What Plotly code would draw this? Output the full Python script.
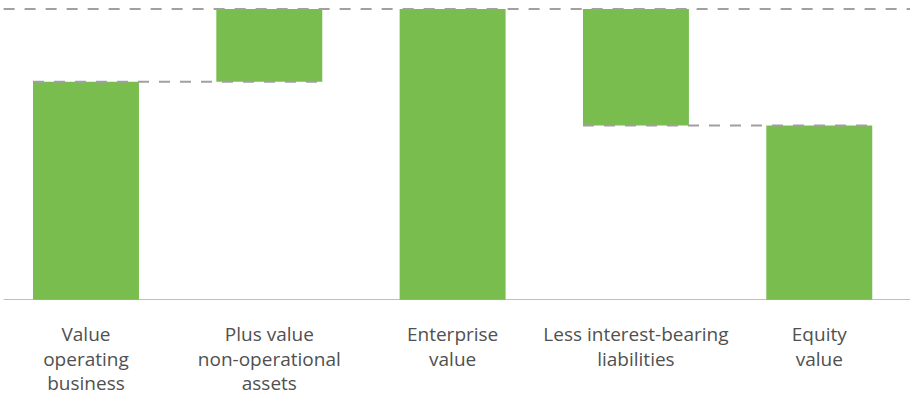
import plotly.graph_objects as go

# Bridge from operating value to equity value
categories = [
    "Value<br>operating<br>business",
    "Plus value<br>non-operational<br>assets",
    "Enterprise<br>value",
    "Less interest-bearing<br>liabilities",
    "Equity<br>value",
]
steps = [75, 25, 100, -40, 60]
measures = ["absolute", "relative", "total", "relative", "total"]

GREEN = "#7abd4f"
DASH_GREY = "#a0a0a0"

# Work out floating bar bases / heights from the step values
bases, heights, running = [], [], 0
for v, m in zip(steps, measures):
    if m == "relative":
        start, end = running, running + v
        running = end
    else:
        start, end = 0, v
        running = v
    bases.append(min(start, end))
    heights.append(abs(end - start))

x = list(range(len(categories)))
bar_w = 0.578

fig = go.Figure()
fig.add_trace(go.Bar(
    x=x, y=heights, base=bases, width=bar_w,
    marker=dict(color=GREEN, line=dict(width=0)),
    hoverinfo="skip",
))

dash = dict(color=DASH_GREY, width=2, dash="11px,10px")
shapes = []
# reference line at the enterprise value across the whole chart
total_ev = max(b + h for b, h in zip(bases, heights))
shapes.append(dict(type="line", xref="paper", yref="y", x0=0.004, x1=1,
                   y0=total_ev, y1=total_ev, line=dash, layer="above"))
# connectors for the intermediate levels
ops_level = steps[0]
shapes.append(dict(type="line", xref="x", yref="y",
                   x0=x[0] - bar_w / 2, x1=x[1] + bar_w / 2,
                   y0=ops_level, y1=ops_level, line=dash, layer="above"))
eq_level = steps[4]
shapes.append(dict(type="line", xref="x", yref="y",
                   x0=x[3] - bar_w / 2, x1=x[4] + bar_w / 2,
                   y0=eq_level, y1=eq_level, line=dash, layer="above"))
# baseline
shapes.append(dict(type="line", xref="paper", yref="y", x0=0.004, x1=1,
                   y0=0, y1=0, line=dict(color="#a8a8a8", width=1.5), layer="above"))

fig.update_layout(
    width=910, height=396,
    margin=dict(l=0, r=0, t=0, b=96),
    paper_bgcolor="white", plot_bgcolor="white",
    showlegend=False,
    shapes=shapes,
    font=dict(family="Open Sans, sans-serif", size=19, color="#505050"),
    xaxis=dict(
        tickmode="array", tickvals=x, ticktext=categories,
        range=[-0.469, 4.495], showgrid=False, zeroline=False,
        showline=False, ticks="", ticklabelstandoff=21, automargin=False,
    ),
    yaxis=dict(range=[0, 103.09], visible=False, showgrid=False,
               zeroline=False, automargin=False),
)

fig.write_html("out.html")
